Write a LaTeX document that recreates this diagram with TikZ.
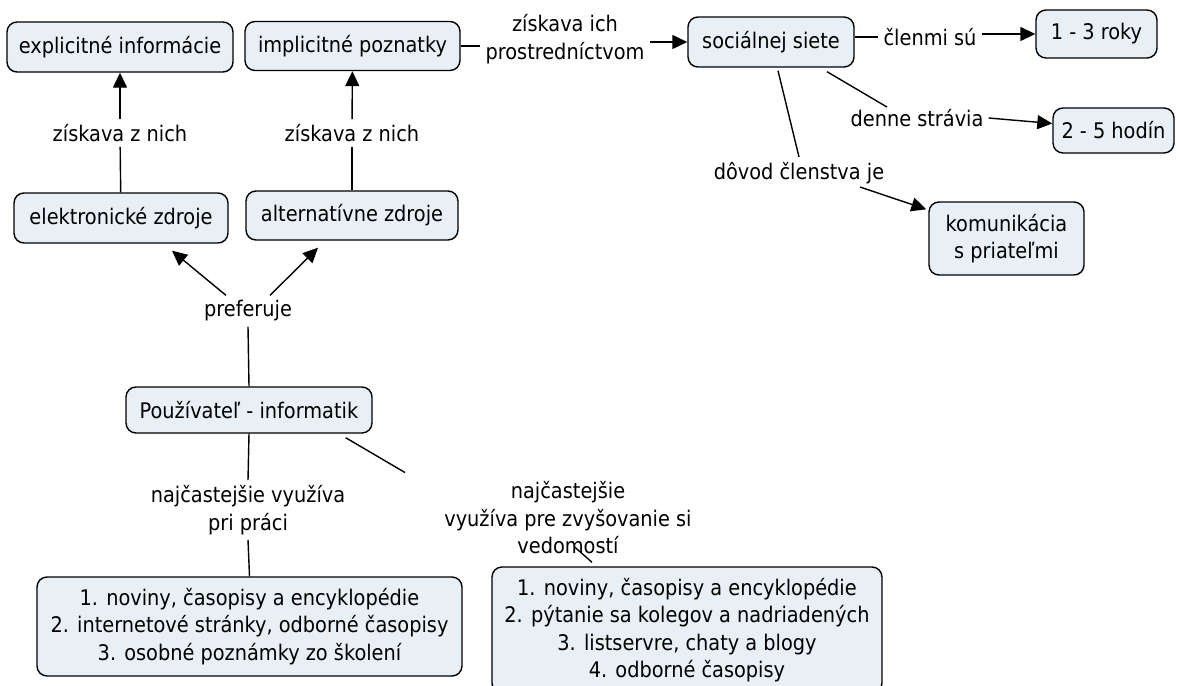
\documentclass[tikz,border=0pt]{standalone}
\usepackage{fontspec}
\setmainfont{DejaVu Sans Condensed}
\usetikzlibrary{arrows.meta,calc}
\definecolor{boxfill}{RGB}{232,240,245}
\begin{document}
\begin{tikzpicture}[x=1pt,y=-1pt,
  every node/.style={font=\fontsize{21.5}{27.5}\selectfont},
  cbox/.style={draw, rounded corners=10pt, fill=boxfill, line width=1.4pt, align=center, inner sep=0pt},
  lbl/.style={align=center, inner sep=5pt},
  conn/.style={line width=1.4pt},
  arr/.style={line width=1.4pt, -{Triangle[length=15pt,width=14pt]}}]
\useasboundingbox (0,0) rectangle (1180,685);
% boxes
\node[cbox, minimum width=226pt, minimum height=50pt] (expl) at (120,47) {explicitné informácie};
\node[cbox, minimum width=215pt, minimum height=49pt] (impl) at (352.5,46) {implicitné poznatky};
\node[cbox, minimum width=166pt, minimum height=50pt] (soc) at (771,42) {sociálnej siete};
\node[cbox, minimum width=121pt, minimum height=48pt] (r13) at (1096.5,34) {1 - 3 roky};
\node[cbox, minimum width=121pt, minimum height=45pt] (h25) at (1113.5,130.5) {2 - 5 hodín};
\node[cbox, minimum width=155pt, minimum height=73pt] (kom) at (1006.5,238.5) {komunikácia\\s priateľmi};
\node[cbox, minimum width=214pt, minimum height=50pt] (elek) at (121,218) {elektronické zdroje};
\node[cbox, minimum width=212pt, minimum height=49pt] (alt) at (352,215.5) {alternatívne zdroje};
\node[cbox, minimum width=246pt, minimum height=46pt] (user) at (249,410) {Používateľ - informatik};
\node[cbox, minimum width=425pt, minimum height=99pt] (b1) at (249.5,626.5) {1. noviny, časopisy a encyklopédie\\2. internetové stránky, odborné časopisy\\3. osobné poznámky zo školení};
\node[cbox, minimum width=390pt, minimum height=126pt] (b2) at (687,630) {1. noviny, časopisy a encyklopédie\\2. pýtanie sa kolegov a nadriadených\\3. listservre, chaty a blogy\\4. odborné časopisy};
% labels
\node[lbl] (zich1) at (120,133) {získava z nich};
\node[lbl] (zich2) at (352,133) {získava z nich};
\node[lbl] (zisk) at (565,39) {získava ich\\prostredníctvom};
\node[lbl] (clen) at (930,37) {členmi sú};
\node[lbl] (denne) at (917,118) {denne strávia};
\node[lbl] (dovod) at (799,173) {dôvod členstva je};
\node[lbl] (pref) at (248,311) {preferuje};
\node[lbl] (naj1) at (248,510) {najčastejšie využíva\\pri práci};
\node[lbl] (naj2) at (568,518) {najčastejšie\\využíva pre zvyšovanie si\\vedomostí};
% connectors
\draw[conn] (elek) -- (zich1);
\draw[arr] (zich1) -- (expl);
\draw[conn] (alt) -- (zich2);
\draw[arr] (zich2) -- (impl);
\draw[conn] (impl.east) -- (zisk.west |- impl.east);
\draw[arr] (zisk.east |- soc.west) -- (soc.west);
\draw[conn] ([yshift=5pt]soc.east) -- (clen.west);
\draw[arr] (clen.east |- r13.west) -- (r13.west);
\draw[conn] ([xshift=56pt,yshift=-4pt]soc.south) -- ([xshift=-30pt,yshift=-3pt]denne.north);
\draw[arr] (denne.east) -- ([yshift=7pt]h25.west);
\draw[conn] ([xshift=7pt,yshift=-3pt]soc.south) -- (dovod.north);
\draw[arr] ([xshift=61pt,yshift=2pt]dovod.south) -- ([xshift=-2pt,yshift=-8pt]kom.north west);
\draw[arr] ([xshift=-22pt]pref.north) -- ([xshift=51pt,yshift=-7pt]elek.south);
\draw[arr] ([xshift=22pt]pref.north) -- ([xshift=-34pt,yshift=-7pt]alt.south);
\draw[conn] (pref.south) -- (user.north);
\draw[conn] (user.south) -- (naj1.north);
\draw[conn] (naj1.south) -- (b1.north);
\draw[conn] ([xshift=-27pt,yshift=-4pt]user.south east) -- ([xshift=-163pt,yshift=4pt]naj2.north);
\draw[conn] ([xshift=6pt,yshift=13pt]naj2.south) -- ([xshift=-95pt,yshift=4pt]b2.north);
\end{tikzpicture}
\end{document}
